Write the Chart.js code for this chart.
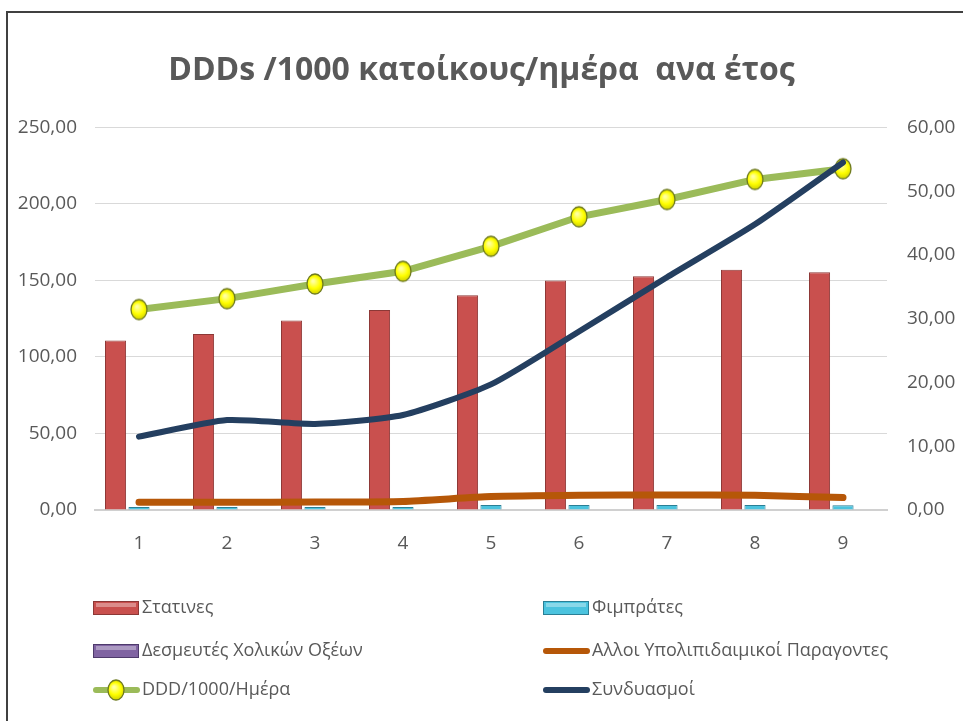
<!DOCTYPE html>
<html><head><meta charset="utf-8">
<script src="https://cdn.jsdelivr.net/npm/chart.js@4.4.0/dist/chart.umd.min.js"></script>
<style>html,body{margin:0;padding:0;background:#fff;} #wrap{position:relative;width:963px;height:721px;} canvas{display:block;}</style>
</head><body><div id="wrap"><canvas id="c" width="963" height="721"></canvas></div>
<script>
const categories = ['1','2','3','4','5','6','7','8','9'];
const statins = [110.8,115.0,123.9,130.7,140.3,150.0,152.7,157.0,155.3];
const fibrates = [2.0,2.0,2.0,2.0,3.2,3.3,3.3,3.3,3.1];
const bileAcidSequestrants = [0,0,0,0,0,0,0,0,0];
const otherLipidAgents = [1.2,1.2,1.25,1.35,2.1,2.3,2.35,2.3,1.95];
const dddPerDay = [131.0,138.1,147.7,156.0,172.3,191.6,202.9,216.0,223.0];
const combinations = [11.5,14.1,13.5,14.9,19.7,28.0,36.5,44.8,54.5];
const leftTicks = [0,50,100,150,200,250];
const rightTicks = [0,10,20,30,40,50,60];
const title = 'DDDs /1000 κατοίκους/ημέρα  ανα έτος';

const FONT = "'Open Sans', 'DejaVu Sans', sans-serif";
const TXT = '#595959';

function makeMarker(){
  const c=document.createElement('canvas'); c.width=20; c.height=24;
  const g=c.getContext('2d');
  const grd=g.createRadialGradient(8,9,1,10,12,10);
  grd.addColorStop(0,'#FFFFA0'); grd.addColorStop(0.55,'#FFFF00'); grd.addColorStop(1,'#CFCF00');
  g.beginPath(); g.ellipse(10,12,8,10,0,0,Math.PI*2);
  g.fillStyle=grd; g.fill(); g.lineWidth=1.3; g.strokeStyle='#6E7A1E'; g.stroke();
  return c;
}
const marker = makeMarker();
const fmt = v => Number(v).toFixed(2).replace('.',',');

const frameAndLegend = {
  id:'frameAndLegend',
  afterDraw(chart){
    const ctx=chart.ctx;
    ctx.save();
    ctx.strokeStyle='#404040'; ctx.lineWidth=2;
    ctx.beginPath(); ctx.moveTo(7,721); ctx.lineTo(7,12); ctx.lineTo(963,12); ctx.stroke();
    const ds=chart.data.datasets;
    const cols=[93,543], rows=[608,651,690];
    ds.forEach((d,i)=>{
      const x=cols[i%2], y=rows[Math.floor(i/2)];
      if(d.type==='bar'){
        ctx.fillStyle=d.backgroundColor; ctx.fillRect(x,y-7,46,14);
        ctx.strokeStyle=d.borderColor; ctx.lineWidth=1; ctx.strokeRect(x+0.5,y-6.5,45,13);
        ctx.fillStyle='rgba(255,255,255,0.35)'; ctx.fillRect(x+3,y-5,40,4);
      } else {
        ctx.strokeStyle=d.borderColor; ctx.lineWidth=6; ctx.lineCap='round';
        ctx.beginPath(); ctx.moveTo(x+3,y); ctx.lineTo(x+44,y); ctx.stroke();
        if(d.pointStyle && typeof d.pointStyle==='object'){
          ctx.drawImage(d.pointStyle,x+23-d.pointStyle.width/2,y-d.pointStyle.height/2);
        }
      }
      ctx.fillStyle=TXT; ctx.font="18px "+FONT; ctx.textBaseline='middle'; ctx.textAlign='left';
      ctx.fillText(d.label,x+49,y);
    });
    ctx.restore();
  }
};

new Chart(document.getElementById('c'),{
  data:{
    labels:categories,
    datasets:[
      {type:'bar',label:'Στατινες',data:statins,yAxisID:'y',backgroundColor:'#C9504E',borderColor:'#8C3836',borderWidth:1,order:3},
      {type:'bar',label:'Φιμπράτες',data:fibrates,yAxisID:'y',backgroundColor:'#4BC3DE',borderColor:'#2A7F95',borderWidth:1,order:3},
      {type:'bar',label:'Δεσμευτές Χολικών Οξέων',data:bileAcidSequestrants,yAxisID:'y',backgroundColor:'#8064A2',borderColor:'#4E3A6B',borderWidth:0,order:3},
      {type:'line',label:'Αλλοι Υπολιπιδαιμικοί Παραγοντες',data:otherLipidAgents,yAxisID:'y1',borderColor:'#B65708',borderWidth:7,pointRadius:0,tension:0.2,borderCapStyle:'round',order:1},
      {type:'line',label:'DDD/1000/Ημέρα',data:dddPerDay,yAxisID:'y',borderColor:'#9BBB59',borderWidth:7,pointStyle:marker,pointRadius:10,tension:0,order:1},
      {type:'line',label:'Συνδυασμοί',data:combinations,yAxisID:'y1',borderColor:'#243F60',borderWidth:6,pointRadius:0,tension:0.2,borderCapStyle:'round',order:0}
    ]
  },
  options:{
    responsive:false, animation:false,
    layout:{padding:{left:0,right:0,top:0,bottom:161}},
    plugins:{
      legend:{display:false}, tooltip:{enabled:false},
      title:{display:true,text:title,color:TXT,font:{family:FONT,size:32,weight:'bold'},padding:{top:52,bottom:37}}
    },
    scales:{
      x:{
        categoryPercentage:0.75, barPercentage:1.0,
        grid:{display:false,drawTicks:false},
        border:{display:true,color:'#D0D0D0',width:2},
        ticks:{color:TXT,font:{family:FONT,size:19},padding:22},
        afterFit(s){s.height=50;}
      },
      y:{
        position:'left', min:0, max:250,
        afterBuildTicks(s){s.ticks=leftTicks.map(v=>({value:v}));},
        grid:{color:'#D9D9D9',drawTicks:false},
        border:{display:false},
        ticks:{color:TXT,font:{family:FONT,size:19},padding:18,callback:fmt},
        afterFit(s){s.width=95;}
      },
      y1:{
        position:'right', min:0, max:60,
        afterBuildTicks(s){s.ticks=rightTicks.map(v=>({value:v}));},
        grid:{display:false,drawTicks:false},
        border:{display:false},
        ticks:{color:TXT,font:{family:FONT,size:19},padding:20,callback:fmt},
        afterFit(s){s.width=76;}
      }
    }
  },
  plugins:[frameAndLegend]
});
</script></body></html>
